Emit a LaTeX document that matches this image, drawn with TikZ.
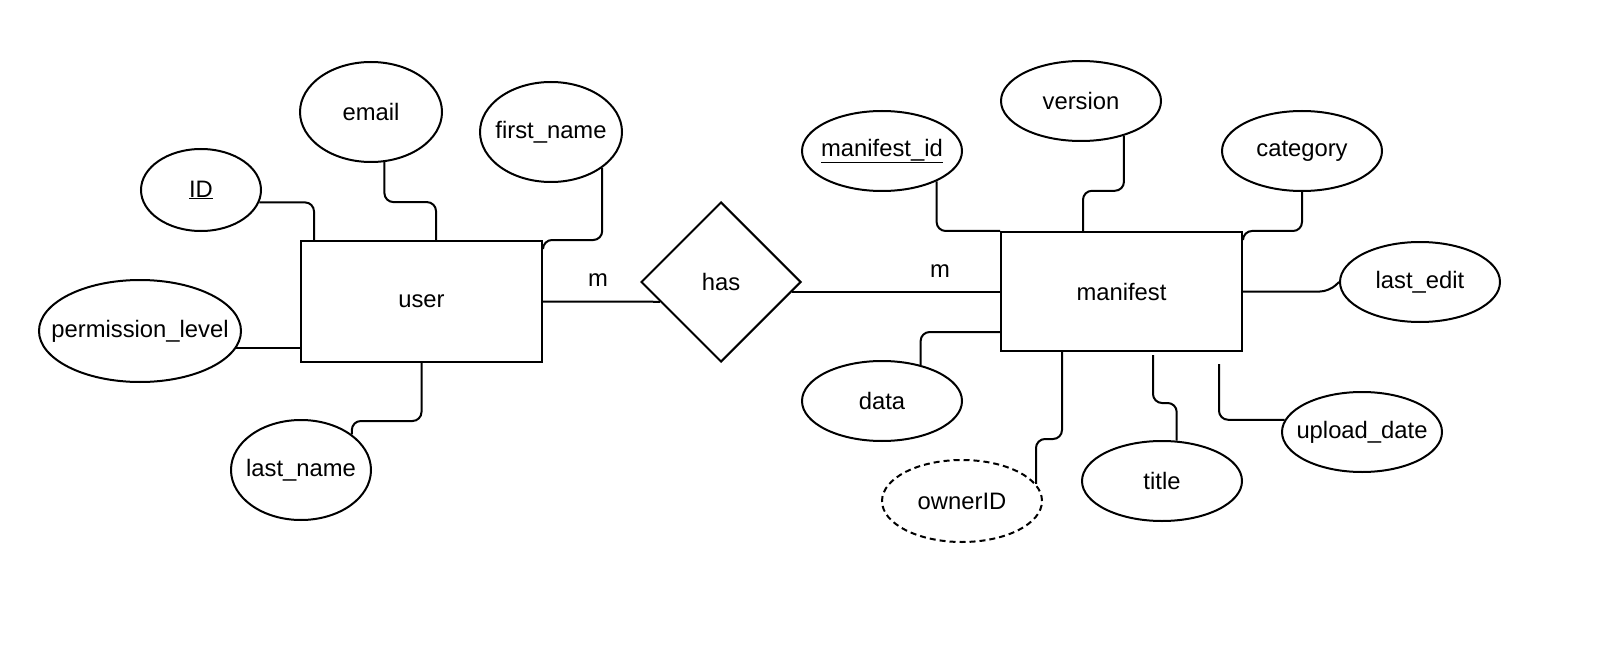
\documentclass[tikz,border=0pt]{standalone}
\usepackage{fontspec}
\setmainfont{Liberation Sans}
\usetikzlibrary{shapes.geometric}
% attribute text is boxed at zero width so the ellipse size comes from the style alone
\newcommand{\attrtext}[1]{\makebox[0pt]{#1}}
\begin{document}
\begin{tikzpicture}[x=1pt,y=-1pt,
  conn/.style={line width=2pt, rounded corners=9pt},
  label/.style={font=\fontsize{23.8}{28}\selectfont},
  attr/.style={ellipse, draw, line width=2pt, inner sep=0pt,
    minimum width=160pt, minimum height=80pt, label},
  tallattr/.style={attr, minimum height=100pt},
  derived/.style={attr, dash pattern=on 6pt off 4pt},
  entity/.style={rectangle, draw, line width=2pt, inner sep=0pt, label},
  relation/.style={diamond, draw, line width=2pt, inner sep=0pt,
    minimum width=160pt, minimum height=160pt, label}]
\useasboundingbox (0,0) rectangle (1598,647);

% entity: user and its attributes
\node[entity, minimum width=241pt, minimum height=121pt] (user) at (421.5,301.5) {user};
\node[attr, minimum width=120pt, minimum height=82pt] (idattr) at (201,190) {\attrtext{\underline{ID}}};
\node[tallattr, minimum width=142pt] (email) at (371,112) {\attrtext{email}};
\node[tallattr, minimum width=142pt] (fname) at (551,132) {\attrtext{first\_name}};
\node[attr, minimum width=202pt, minimum height=102pt] (perm) at (140,331) {\attrtext{permission\_level}};
\node[tallattr, minimum width=140pt] (lname) at (301,470) {\attrtext{last\_name}};

% relationship
\node[relation] (has) at (721,282) {has};
\path (has.west) -- (has.south) coordinate[pos=0.244] (hasin);
\path (has.east) -- (has.south) coordinate[pos=0.12] (hasout);

% entity: manifest and its attributes
\node[entity, minimum width=241pt, minimum height=119pt] (manifest) at (1121.5,291.5) {manifest};
\node[attr] (mid) at (882,151) {\attrtext{\underline{manifest\_id}}};
\node[attr] (ver) at (1081,101) {\attrtext{version}};
\node[attr] (cat) at (1302,151) {\attrtext{category}};
\node[attr] (lastedit) at (1420,282) {\attrtext{last\_edit}};
\node[attr] (upload) at (1362,432) {\attrtext{upload\_date}};
\node[attr] (title) at (1162,481) {\attrtext{title}};
\node[derived, minimum height=82pt] (owner) at (962,501) {\attrtext{ownerID}};
\node[attr] (data) at (882,401) {\attrtext{data}};

% cardinalities
\node[label] (mleft) at (598,280) {m};
\node[label] (mright) at (940,271) {m};

% user attribute links
\draw[conn] (idattr.-12) -| ([xshift=14pt]user.north west);
\draw[conn] (email.-75) -- ++(0,40) -| ([xshift=136pt]user.north west);
\draw[conn] (fname.-35) |- (user.north east) -- ++(0,6);
\draw[conn] (perm.-10) -- (perm.-10 -| user.west);
\draw[conn] (user.south) -- ++(0,58) -| (lname.35);

% relationship links
\draw[conn] (user.east) -- (hasin);
\draw[conn] (hasout) -- (hasout -| manifest.west);

% manifest attribute links
\draw[conn] (mid.-29) |- (manifest.north west);
\draw[conn] (ver.-39) -- ++(0,55) -| ([xshift=83pt]manifest.north west);
\draw[conn] (cat.south) |- (manifest.north east) -- ++(0,6);
\draw[conn] (manifest.east) -- ([xshift=-10pt]manifest.east -| lastedit.west) -- (lastedit.west);
\draw[conn] ([yshift=-40.5pt]manifest.west) -| (data.43);
\draw[conn] ([xshift=62pt]manifest.south west) -- ++(0,87) -| (owner.13);
\draw[conn] ([xshift=153pt,yshift=-3pt]manifest.south west) -- ++(0,48) -| (title.70);
\draw[conn] ([xshift=219pt,yshift=-12pt]manifest.south west) |- (upload.171);
\end{tikzpicture}
\end{document}
